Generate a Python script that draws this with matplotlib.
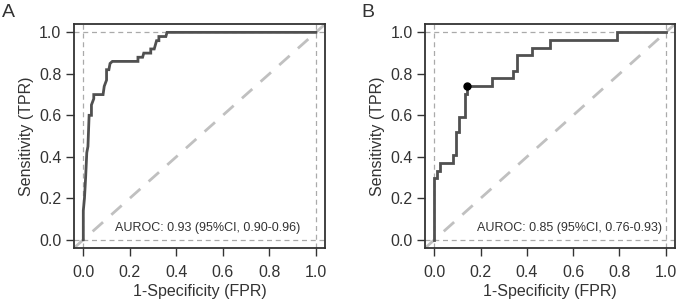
import matplotlib
matplotlib.use("Agg")
import matplotlib.pyplot as plt

plt.rcParams['font.family'] = ['Liberation Sans', 'DejaVu Sans']

# Panel A ROC curve
fpr_a = [0, 0, 0.005, 0.01, 0.015, 0.02, 0.025, 0.035, 0.035, 0.045, 0.045, 0.085, 0.09, 0.1, 0.1,
         0.11, 0.115, 0.125, 0.235, 0.235, 0.255, 0.26, 0.29, 0.29, 0.305, 0.315, 0.325, 0.325,
         0.355, 0.36, 1.0]
tpr_a = [0, 0.14, 0.2, 0.3, 0.42, 0.45, 0.6, 0.6, 0.65, 0.68, 0.7, 0.7, 0.74, 0.77, 0.82,
         0.82, 0.85, 0.86, 0.86, 0.88, 0.88, 0.9, 0.9, 0.92, 0.92, 0.96, 0.96, 0.98,
         0.98, 1.0, 1.0]
label_a = "AUROC: 0.93 (95%CI, 0.90-0.96)"

# Panel B ROC curve
fpr_b = [0, 0, 0.01, 0.01, 0.025, 0.025, 0.08, 0.08, 0.095, 0.095, 0.108, 0.108, 0.132, 0.132,
         0.143, 0.143, 0.25, 0.25, 0.34, 0.34, 0.355, 0.355, 0.42, 0.42, 0.5, 0.5, 0.79, 0.79, 1.0]
tpr_b = [0, 0.296, 0.296, 0.333, 0.333, 0.370, 0.370, 0.407, 0.407, 0.519, 0.519, 0.593, 0.593,
         0.704, 0.704, 0.741, 0.741, 0.778, 0.778, 0.815, 0.815, 0.889, 0.889, 0.926, 0.926,
         0.963, 0.963, 1.0, 1.0]
best_b = (0.143, 0.741)
label_b = "AUROC: 0.85 (95%CI, 0.76-0.93)"

ticks = [0.0, 0.2, 0.4, 0.6, 0.8, 1.0]
tick_labels = ["0.0", "0.2", "0.4", "0.6", "0.8", "1.0"]

fig = plt.figure(figsize=(6.77, 3.01), dpi=100)
ax_a = fig.add_axes([0.1093, 0.176, 0.371, 0.744])
ax_b = fig.add_axes([0.628, 0.176, 0.369, 0.744])


def draw(ax, fpr, tpr, label, label_x, best=None):
    ax.set_xlim(-0.04, 1.04)
    ax.set_ylim(-0.04, 1.04)
    for v in (0, 1):
        ax.axhline(v, color='#aaaaaa', lw=0.9, ls=(0, (4, 3)), zorder=1)
        ax.axvline(v, color='#aaaaaa', lw=0.9, ls=(0, (4, 3)), zorder=1)
    ax.plot([-0.04, 1.04], [-0.04, 1.04], color='#c0c0c0', lw=2, ls=(0, (5, 4)), zorder=1)
    ax.plot(fpr, tpr, color='#505050', lw=2, zorder=3, solid_joinstyle='miter')
    if best is not None:
        ax.plot([best[0]], [best[1]], 'o', color='black', ms=5, zorder=4)
    ax.text(label_x, 0.055, label, ha='center', va='center', fontsize=9, color='#333333')
    ax.set_xticks(ticks)
    ax.set_xticklabels(tick_labels)
    ax.set_yticks(ticks)
    ax.set_yticklabels(tick_labels)
    ax.tick_params(direction='out', length=6, width=1, colors='#333333', labelsize=11.5,
                   labelcolor='#333333', pad=3)
    ax.tick_params(axis='x', pad=6)
    for sp in ax.spines.values():
        sp.set_color('#333333')
        sp.set_linewidth(1.3)
    ax.set_xlabel("1-Specificity (FPR)", fontsize=11.5, color='#333333', labelpad=3)
    ax.set_ylabel("Sensitivity (TPR)", fontsize=11.5, color='#333333', labelpad=4)


draw(ax_a, fpr_a, tpr_a, label_a, 0.533)
draw(ax_b, fpr_b, tpr_b, label_b, 0.586, best=best_b)

fig.text(0.003, 0.958, "A", fontsize=14, color='#333333', ha='left', va='center')
fig.text(0.534, 0.958, "B", fontsize=14, color='#333333', ha='left', va='center')

fig.savefig("out.png", dpi=100)
